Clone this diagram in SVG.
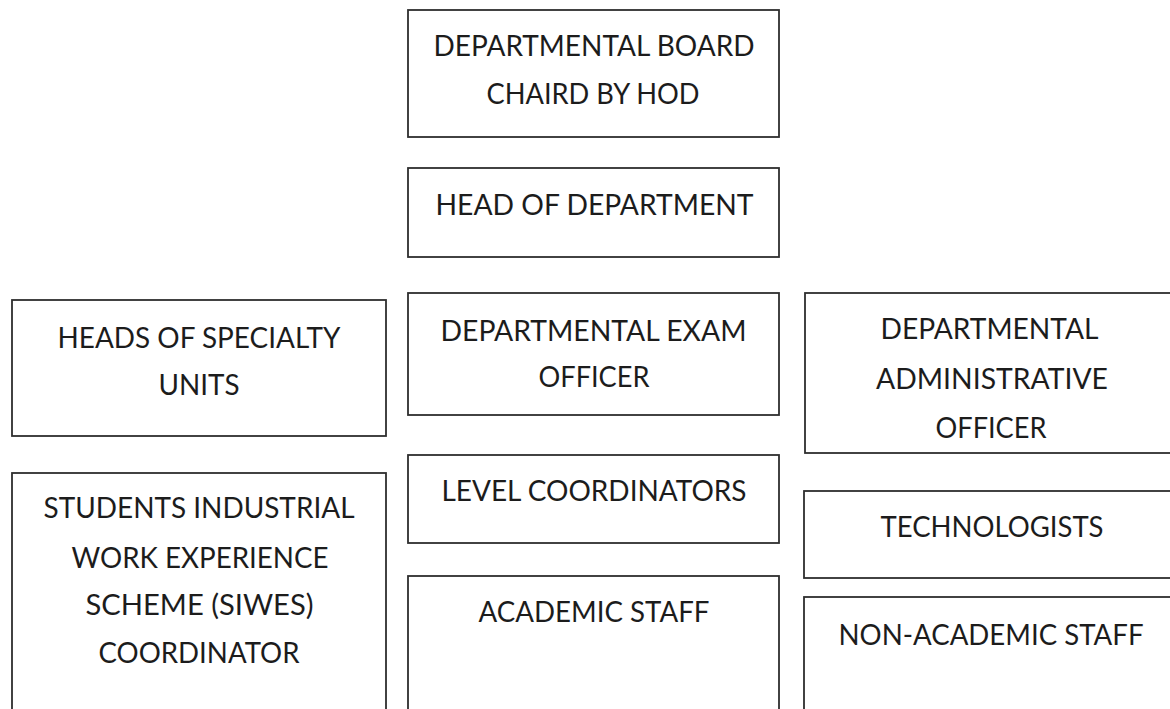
<svg xmlns="http://www.w3.org/2000/svg" width="1170" height="709" viewBox="0 0 1170 709">
  <style>
    .box { fill: #ffffff; stroke: #2e2e2e; stroke-width: 1.8; }
    .lbl { font-family: Lato, "Open Sans", "Liberation Sans", sans-serif; font-size: 29px; fill: #1c1c1c; text-anchor: middle; }
  </style>
  <rect width="1170" height="709" fill="#ffffff"/>

  <!-- centre column -->
  <g id="board">
    <rect class="box" x="408" y="10" width="371" height="127"/>
    <text class="lbl" x="594" y="56" textLength="321" lengthAdjust="spacingAndGlyphs">DEPARTMENTAL BOARD</text>
    <text class="lbl" x="593" y="104" textLength="213" lengthAdjust="spacingAndGlyphs">CHAIRD BY HOD</text>
  </g>
  <g id="head-of-department">
    <rect class="box" x="408" y="168" width="371" height="89"/>
    <text class="lbl" x="594.5" y="215" textLength="318" lengthAdjust="spacingAndGlyphs">HEAD OF DEPARTMENT</text>
  </g>
  <g id="exam-officer">
    <rect class="box" x="408" y="293" width="371" height="122"/>
    <text class="lbl" x="593.5" y="341" textLength="306" lengthAdjust="spacingAndGlyphs">DEPARTMENTAL EXAM</text>
    <text class="lbl" x="594" y="387" textLength="111" lengthAdjust="spacingAndGlyphs">OFFICER</text>
  </g>
  <g id="level-coordinators">
    <rect class="box" x="408" y="455" width="371" height="88"/>
    <text class="lbl" x="594" y="501" textLength="305" lengthAdjust="spacingAndGlyphs">LEVEL COORDINATORS</text>
  </g>
  <g id="academic-staff">
    <rect class="box" x="408" y="576" width="371" height="150"/>
    <text class="lbl" x="594" y="622" textLength="231" lengthAdjust="spacingAndGlyphs">ACADEMIC STAFF</text>
  </g>

  <!-- left column -->
  <g id="specialty-units">
    <rect class="box" x="12" y="300" width="374" height="136"/>
    <text class="lbl" x="199" y="348" textLength="283" lengthAdjust="spacingAndGlyphs">HEADS OF SPECIALTY</text>
    <text class="lbl" x="199" y="395" textLength="81" lengthAdjust="spacingAndGlyphs">UNITS</text>
  </g>
  <g id="siwes-coordinator">
    <rect class="box" x="12" y="473" width="374" height="250"/>
    <text class="lbl" x="199" y="518" textLength="311" lengthAdjust="spacingAndGlyphs">STUDENTS INDUSTRIAL</text>
    <text class="lbl" x="200" y="568" textLength="257" lengthAdjust="spacingAndGlyphs">WORK EXPERIENCE</text>
    <text class="lbl" x="199.5" y="615" textLength="228" lengthAdjust="spacingAndGlyphs">SCHEME (SIWES)</text>
    <text class="lbl" x="199" y="663" textLength="201" lengthAdjust="spacingAndGlyphs">COORDINATOR</text>
  </g>

  <!-- right column -->
  <g id="administrative-officer">
    <rect class="box" x="805" y="293" width="380" height="160"/>
    <text class="lbl" x="989.5" y="339" textLength="218" lengthAdjust="spacingAndGlyphs">DEPARTMENTAL</text>
    <text class="lbl" x="992" y="389" textLength="232" lengthAdjust="spacingAndGlyphs">ADMINISTRATIVE</text>
    <text class="lbl" x="991" y="438" textLength="111" lengthAdjust="spacingAndGlyphs">OFFICER</text>
  </g>
  <g id="technologists">
    <rect class="box" x="804" y="491" width="380" height="87"/>
    <text class="lbl" x="992" y="537" textLength="223" lengthAdjust="spacingAndGlyphs">TECHNOLOGISTS</text>
  </g>
  <g id="non-academic-staff">
    <rect class="box" x="804" y="597" width="380" height="130"/>
    <text class="lbl" x="991" y="645" textLength="305" lengthAdjust="spacingAndGlyphs">NON-ACADEMIC STAFF</text>
  </g>

  <g id="connectors"/>
</svg>
